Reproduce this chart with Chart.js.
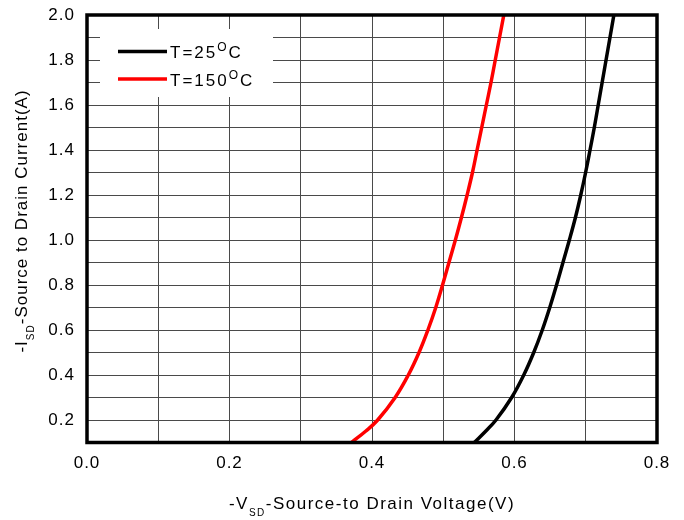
<!DOCTYPE html>
<html>
<head>
<meta charset="utf-8">
<script src="https://cdn.jsdelivr.net/npm/chart.js@4/dist/chart.umd.min.js"></script>
<style>
  html, body { margin: 0; padding: 0; background: #fff; }
  #wrap { width: 684px; height: 520px; }
</style>
</head>
<body>
<div id="wrap"><canvas id="chart" width="684" height="520"></canvas></div>
<script>
// source-to-drain current levels (A)
const currentA = [0.1, 0.15, 0.2, 0.3, 0.4, 0.5, 0.6, 0.7, 0.8, 0.9, 1.0, 1.1, 1.2, 1.3, 1.4, 1.5, 1.6, 1.7, 1.8, 1.9, 2.0];
// -VSD (V) at each current level
const vsd25C = [0.5435, 0.5595, 0.574, 0.596, 0.613, 0.627, 0.639, 0.6495, 0.659, 0.668, 0.677, 0.6855, 0.693, 0.6998, 0.706, 0.712, 0.7175, 0.723, 0.7285, 0.734, 0.7395];
const vsd150C = [0.371, 0.391, 0.408, 0.4325, 0.451, 0.466, 0.4785, 0.4895, 0.499, 0.508, 0.517, 0.5255, 0.5335, 0.541, 0.5475, 0.554, 0.5605, 0.567, 0.573, 0.579, 0.585];

const seriesNames = ["T=25", "T=150"];
const xTicks = [0.0, 0.2, 0.4, 0.6, 0.8];
const yTicks = [0.2, 0.4, 0.6, 0.8, 1.0, 1.2, 1.4, 1.6, 1.8, 2.0];

const FONT = "Arial, 'Liberation Sans', sans-serif";
const GRID = "#4a4a4a";

const toPoints = (xs) => xs.map((x, i) => ({ x, y: currentA[i] }));
const hasLabel = (list, v) => list.some((t) => Math.abs(t - v) < 1e-6);

// draws text pieces (main / sub / superscript) along one baseline
function drawSubText(ctx, parts, x, y) {
  let cx = x;
  parts.forEach(([text, size, dy]) => {
    ctx.font = `${size}px ${FONT}`;
    ctx.fillText(text, cx, y + dy);
    cx += ctx.measureText(text).width;
  });
}
function partsWidth(ctx, parts) {
  return parts.reduce((w, [text, size]) => {
    ctx.font = `${size}px ${FONT}`;
    return w + ctx.measureText(text).width;
  }, 0);
}

const decorPlugin = {
  id: "decor",
  beforeDraw(chart) {
    chart.ctx.letterSpacing = "1px";
  },
  afterDatasetsDraw(chart) {
    const { ctx, chartArea: a } = chart;
    ctx.save();
    ctx.letterSpacing = "2px";

    // legend box
    ctx.fillStyle = "#fff";
    ctx.fillRect(100, 29, 173, 68);
    const legendRows = [[seriesNames[0], "#000", 51.5], [seriesNames[1], "#ff0000", 79]];
    legendRows.forEach(([name, color, y]) => {
      ctx.strokeStyle = color;
      ctx.lineWidth = 3.5;
      ctx.beginPath();
      ctx.moveTo(118, y);
      ctx.lineTo(167, y);
      ctx.stroke();
      ctx.fillStyle = "#000";
      ctx.textBaseline = "alphabetic";
      ctx.textAlign = "left";
      drawSubText(ctx, [[name, 17, 0], ["O", 12, -7], ["C", 17, 0]], 170, y + 6.5);
    });

    // frame
    ctx.strokeStyle = "#000";
    ctx.lineWidth = 3.5;
    ctx.strokeRect(a.left, a.top, a.right - a.left, a.bottom - a.top);

    // x axis title
    ctx.fillStyle = "#000";
    ctx.textAlign = "left";
    ctx.textBaseline = "alphabetic";
    ctx.letterSpacing = "1.5px";
    const xParts = [["-V", 17, 0], ["SD", 10, 7], ["-Source-to Drain Voltage(V)", 17, 0]];
    const xw = partsWidth(ctx, xParts);
    drawSubText(ctx, xParts, (a.left + a.right) / 2 - xw / 2, 509);

    // y axis title
    ctx.letterSpacing = "1px";
    const yParts = [["-I", 17, 0], ["SD", 10, 7], ["-Source to Drain Current(A)", 17, 0]];
    const yw = partsWidth(ctx, yParts);
    ctx.translate(27, 221);
    ctx.rotate(-Math.PI / 2);
    drawSubText(ctx, yParts, -yw / 2, 0);
    ctx.restore();
  }
};

new Chart(document.getElementById("chart"), {
  type: "scatter",
  data: {
    datasets: [
      { label: seriesNames[0], data: toPoints(vsd25C), borderColor: "#000", borderWidth: 3.5 },
      { label: seriesNames[1], data: toPoints(vsd150C), borderColor: "#ff0000", borderWidth: 3.5 }
    ].map((d) => ({ ...d, showLine: true, pointRadius: 0, tension: 0.4, fill: false }))
  },
  options: {
    responsive: false,
    animation: false,
    layout: { padding: { top: 15, right: 27, left: 0, bottom: 0 } },
    plugins: { legend: { display: false }, tooltip: { enabled: false } },
    scales: {
      x: {
        type: "linear",
        min: 0,
        max: 0.8,
        afterFit: (s) => { s.height = 77.5; s.paddingLeft = 0; s.paddingRight = 0; },
        border: { display: false },
        grid: { color: GRID, lineWidth: 1, drawTicks: false },
        ticks: {
          stepSize: 0.1,
          padding: 11,
          color: "#000",
          font: { family: FONT, size: 17 },
          maxRotation: 0,
          autoSkip: false,
          callback: (v) => (hasLabel(xTicks, v) ? v.toFixed(1) : "")
        }
      },
      y: {
        min: 0.1,
        max: 2.0,
        afterFit: (s) => { s.width = 87; s.paddingTop = 0; s.paddingBottom = 0; },
        border: { display: false },
        grid: { color: GRID, lineWidth: 1, drawTicks: false },
        ticks: {
          stepSize: 0.1,
          padding: 12,
          color: "#000",
          font: { family: FONT, size: 17 },
          autoSkip: false,
          callback: (v) => (hasLabel(yTicks, v) ? v.toFixed(1) : "")
        }
      }
    }
  },
  plugins: [decorPlugin]
});
</script>
</body>
</html>
